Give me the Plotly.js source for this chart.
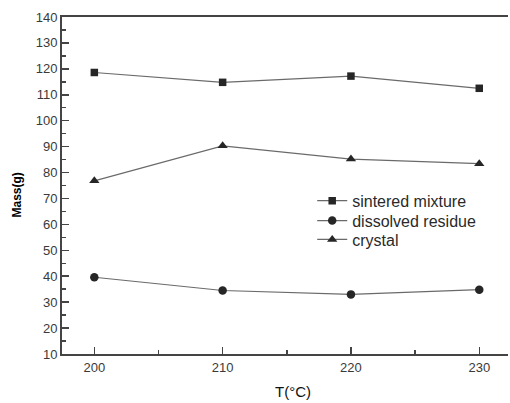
<!DOCTYPE html>
<html>
<head>
<meta charset="utf-8">
<script src="https://cdn.plot.ly/plotly-3.0.1.min.js"></script>
<style>html,body{margin:0;padding:0;background:#fff;}#chart{width:510px;height:403px;}</style>
</head>
<body>
<div id="chart"></div>
<script>
const temperatures = [200, 210, 220, 230];
const sinteredMixture = [118.6, 114.8, 117.2, 112.5];
const dissolvedResidue = [39.6, 34.5, 33.0, 34.8];
const crystal = [76.8, 90.3, 85.2, 83.4];
const seriesNames = ['sintered mixture', 'dissolved residue', 'crystal'];
const xTicks = [200, 210, 220, 230];
const yTicks = [10, 20, 30, 40, 50, 60, 70, 80, 90, 100, 110, 120, 130, 140];
const xTitle = 'T(°C)';
const yTitle = 'Mass(g)';

const lineStyle = {color: '#6a6a6a', width: 1.2};
function mk(y, name, symbol, size, legendId) {
  return {
    x: temperatures, y: y, name: name, type: 'scatter', mode: 'lines+markers',
    line: lineStyle, legend: legendId,
    marker: {symbol: symbol, size: size, color: '#262626'}
  };
}
const data = [
  mk(sinteredMixture, seriesNames[0], 'square', 7.5, 'legend'),
  mk(dissolvedResidue, seriesNames[1], 'circle', 8.5, 'legend2'),
  mk(crystal, seriesNames[2], 'triangle-up', 9, 'legend3')
];
const legendFont = {family: 'Liberation Sans, Arial, sans-serif', size: 16, color: '#2a2a2a'};
function leg(y) {
  return {x: 0.561, y: y, xanchor: 'left', yanchor: 'top', bgcolor: 'rgba(0,0,0,0)',
          borderwidth: 0, font: legendFont, itemwidth: 30};
}
const axisFont = {family: 'Liberation Sans, Arial, sans-serif', size: 13, color: '#3a3a3a'};
const layout = {
  width: 510, height: 403,
  margin: {l: 62, r: 2, t: 17, b: 49},
  paper_bgcolor: '#fff', plot_bgcolor: '#fff',
  showlegend: true,
  legend: leg(0.505),
  legend2: leg(0.446),
  legend3: leg(0.390),
  xaxis: {
    range: [197.48, 232.24],
    tickvals: xTicks, ticks: 'inside', ticklen: 7, tickwidth: 1.5, tickcolor: '#444',
    minor: {dtick: 5, tick0: 200, ticks: 'inside', ticklen: 4, tickwidth: 1.5, tickcolor: '#444'},
    showgrid: false, zeroline: false,
    showline: true, linecolor: '#444', linewidth: 2, mirror: true,
    tickfont: axisFont
  },
  yaxis: {
    range: [10, 140],
    tickvals: yTicks, ticks: 'inside', ticklen: 7, tickwidth: 1.5, tickcolor: '#444',
    minor: {dtick: 5, tick0: 10, ticks: 'inside', ticklen: 4, tickwidth: 1.5, tickcolor: '#444'},
    showgrid: false, zeroline: false,
    showline: true, linecolor: '#444', linewidth: 2, mirror: false,
    tickfont: axisFont
  },
  annotations: [
    {text: xTitle, xref: 'paper', yref: 'paper', x: (293 - 62) / 446, y: -(392 - 354) / 337,
     xanchor: 'center', yanchor: 'middle', showarrow: false,
     font: {family: 'Liberation Sans, Arial, sans-serif', size: 15, color: '#111'}},
    {text: '<b>' + yTitle + '</b>', xref: 'paper', yref: 'paper', x: (16.5 - 62) / 446, y: (354 - 195) / 337,
     xanchor: 'center', yanchor: 'middle', showarrow: false, textangle: -90,
     font: {family: 'Liberation Sans Narrow, Liberation Sans, Arial, sans-serif', size: 12, color: '#000'}}
  ]
};
Plotly.newPlot('chart', data, layout, {displayModeBar: false, staticPlot: true});
</script>
</body>
</html>
